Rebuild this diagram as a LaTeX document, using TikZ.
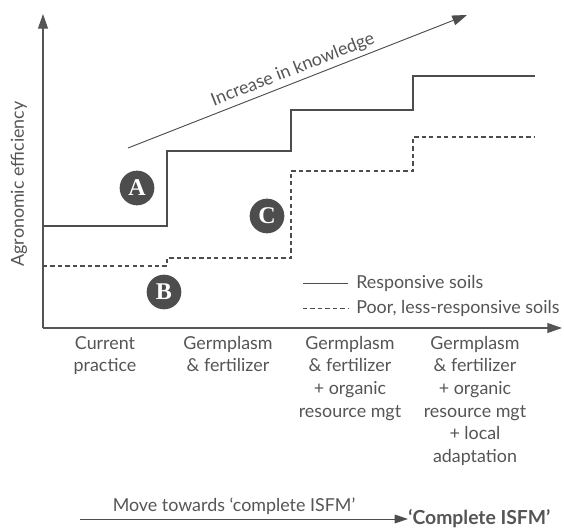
\documentclass[tikz,border=0pt]{standalone}
\usepackage{fontspec}
\setmainfont{Lato}
\newfontfamily\circfont{Liberation Serif}
\usetikzlibrary{arrows.meta}
\definecolor{dg}{HTML}{4D4D4D}
\definecolor{tg}{HTML}{555555}
\begin{document}
\begin{tikzpicture}[x=0.75pt,y=-0.75pt,
  lbl/.style={font=\fontsize{13.4}{16.9}\selectfont, text=tg, align=center, inner sep=0pt},
  badge/.style={circle, fill=dg, minimum size=26pt, inner sep=0pt, text=white, font=\circfont\bfseries\fontsize{18}{18}\selectfont},
  axisline/.style={draw=tg, line width=0.8pt, -{Triangle[length=11pt,width=7.5pt]}},
  soil/.style={draw=dg, line width=0.8pt},
  poor/.style={draw=dg, line width=0.8pt, dash pattern=on 3.2pt off 2.4pt}]
\useasboundingbox (0,0) rectangle (564,530);
% axes
\coordinate (O) at (43,328);
\coordinate (ytip) at (43,14);
\coordinate (xtip) at (562,328);
\draw[axisline] (O) -- (ytip);
\draw[axisline] (O) -- (xtip);
\node[lbl, rotate=90] (ylab) at (19,184) {Agronomic efficiency};
% responsive
\draw[soil] (43,226) -- (167,226) -- (167,151) -- (291,151) -- (291,110) -- (413,110) -- (413,76) -- (535,76);
% poor
\draw[poor] (43,266) -- (167,266) -- (167,258) -- (291,258) -- (291,171) -- (413,171) -- (413,137) -- (535,137);
% knowledge arrow
\coordinate (k1) at (128,148);
\coordinate (k2) at (467,15);
\draw[draw=dg, line width=0.7pt, -{Triangle[length=11pt,width=7.5pt]}] (k1) -- (k2);
\node[lbl, rotate=21.4] (kn) at (293,70) {Increase in knowledge};
% badges
\node[badge] (A) at (137,188) {A};
\node[badge] (C) at (267,216) {C};
\node[badge] (B) at (164,292) {B};
% legend
\coordinate (l1a) at (303,283); \coordinate (l1b) at (348,283);
\coordinate (l2a) at (303,308); \coordinate (l2b) at (348,308);
\draw[soil, line width=0.6pt] (l1a) -- (l1b);
\draw[poor, line width=0.6pt] (l2a) -- (l2b);
\node[lbl, anchor=west] (r1) at (356,283) {Responsive soils};
\node[lbl, anchor=west] (r2) at (356,308) {Poor, less-responsive soils};
% categories
\node[lbl, anchor=north] (c1) at (105,336) {Current\\practice};
\node[lbl, anchor=north] (c2) at (228,336) {Germplasm\\\&\ fertilizer};
\node[lbl, anchor=north] (c3) at (350,336) {Germplasm\\\&\ fertilizer\\+ organic\\resource mgt};
\node[lbl, anchor=north] (c4) at (475,336) {Germplasm\\\&\ fertilizer\\+ organic\\resource mgt\\+ local\\adaptation};
% bottom arrow
\coordinate (m1) at (80,519);
\node[lbl, anchor=west, font=\bfseries\fontsize{14.5}{16}\selectfont] (cI) at (408,519) {‘Complete ISFM’};
\draw[draw=dg, line width=0.7pt, -{Triangle[length=10pt,width=6.5pt]}] (m1) -- (cI.west);
\node[lbl] (mv) at (234,506) {Move towards ‘complete ISFM’};
\end{tikzpicture}
\end{document}
